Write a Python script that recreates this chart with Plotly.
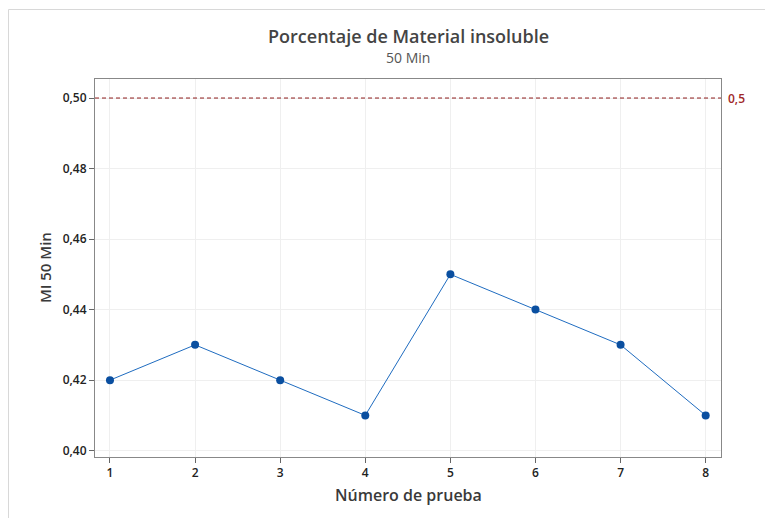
import plotly.graph_objects as go

prueba = [1, 2, 3, 4, 5, 6, 7, 8]
mi_50 = [0.42, 0.43, 0.42, 0.41, 0.45, 0.44, 0.43, 0.41]
ref_value = 0.5
ref_label = "0,5"
y_ticks = [0.40, 0.42, 0.44, 0.46, 0.48, 0.50]

FONT = "Open Sans, Noto Sans, sans-serif"
W, H = 765, 510
L, R, T, B = 87, 52, 71, 61
PW, PH = W - L - R, H - T - B


def px_x(fx):
    return (fx - L) / PW


def px_y(fy):
    return 1 + (T - fy) / PH


fig = go.Figure()
fig.add_trace(go.Scatter(
    x=prueba, y=mi_50, mode="lines+markers",
    line=dict(color="#1f6cc0", width=1),
    marker=dict(color="#0a4fa0", size=8),
    showlegend=False,
))
fig.add_hline(y=ref_value, line=dict(color="#8e1b1b", width=1, dash="4px,3px"))
fig.add_annotation(x=1.0, xref="paper", y=ref_value, yref="y", text=ref_label,
                   showarrow=False, xanchor="left", xshift=5,
                   font=dict(family=FONT, size=12, color="#a02828", weight=600))

# titles
fig.add_annotation(x=0.5, xref="paper", y=px_y(28), yref="paper",
                   text="Porcentaje de Material insoluble", showarrow=False,
                   xanchor="center", yanchor="middle",
                   font=dict(family=FONT, size=18, color="#444", weight=600))
fig.add_annotation(x=0.5, xref="paper", y=px_y(49), yref="paper",
                   text="50 Min", showarrow=False, xanchor="center", yanchor="middle",
                   font=dict(family=FONT, size=14, color="#555"))
fig.add_annotation(x=0.5, xref="paper", y=-(487 - (T + PH)) / PH, yref="paper",
                   text="Número de prueba", showarrow=False, xanchor="center", yanchor="middle",
                   font=dict(family=FONT, size=16, color="#3a3a3a", weight=600))
fig.add_annotation(x=px_x(37), xref="paper", y=0.5, yref="paper",
                   text="MI 50 Min", showarrow=False, xanchor="center", yanchor="middle",
                   textangle=-90,
                   font=dict(family=FONT, size=15, color="#3a3a3a", weight=600))

# light frame around the figure
fig.add_shape(type="line", xref="paper", yref="paper", x0=px_x(0.5), x1=1.3, y0=px_y(1.5), y1=px_y(1.5),
              line=dict(color="#d8d8d8", width=1))
fig.add_shape(type="line", xref="paper", yref="paper", x0=px_x(0.5), x1=px_x(0.5), y0=-0.3, y1=px_y(1.5),
              line=dict(color="#d8d8d8", width=1))

axis_common = dict(
    ticks="outside", ticklen=5, tickcolor="#666",
    showline=True, linecolor="#888", mirror=True,
    showgrid=True, gridcolor="#efefef", zeroline=False,
    tickfont=dict(family=FONT, size=12, color="#222", weight=600),
)

fig.update_layout(
    width=W, height=H,
    margin=dict(l=L, r=R, t=T, b=B),
    paper_bgcolor="white", plot_bgcolor="white",
    separators=", ",
    font=dict(family=FONT, color="#333"),
    xaxis=dict(range=[0.824, 8.18], tickvals=prueba, **axis_common),
    yaxis=dict(range=[0.3982, 0.5054], tickvals=y_ticks, tickformat=".2f", **axis_common),
)

fig.write_html("out.html")
